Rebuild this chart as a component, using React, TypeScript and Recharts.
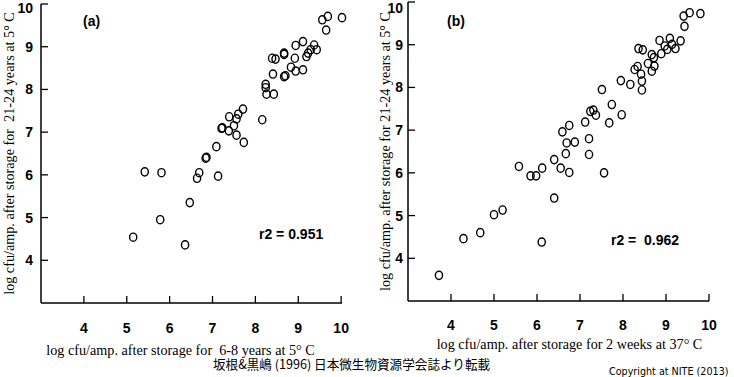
import * as React from 'react';
import { ScatterChart, Scatter, XAxis, YAxis } from 'recharts';

// (a) 6-8 years at 5°C  vs  21-24 years at 5°C
const aX = [5.42, 5.81, 6.69, 6.64, 7.13, 7.09, 6.84, 6.86, 7.21, 7.23, 7.38, 7.39, 7.50, 7.60, 7.56,
  7.56, 7.71, 7.73, 8.16, 8.24, 8.24, 8.26, 8.43, 8.41, 8.39, 8.47, 8.67, 8.67, 8.67, 8.70, 8.83,
  8.94, 8.92, 8.94, 9.11, 9.11, 9.19, 9.23, 9.29, 9.37, 9.43, 9.56, 9.69, 9.65, 10.02, 5.15, 5.78,
  6.36, 6.47];
const aY = [6.07, 6.05, 6.05, 5.92, 5.97, 6.66, 6.39, 6.41, 7.09, 7.10, 7.03, 7.36, 7.15, 7.42, 7.31,
  6.93, 7.54, 6.76, 7.29, 8.12, 8.04, 7.89, 7.89, 8.36, 8.73, 8.71, 8.82, 8.85, 8.30, 8.32, 8.52,
  8.43, 8.73, 9.03, 9.12, 8.46, 8.77, 8.85, 8.93, 9.04, 8.93, 9.63, 9.71, 9.39, 9.68, 4.54, 4.95,
  4.36, 5.35];

// (b) 2 weeks at 37°C  vs  21-24 years at 5°C
const bX = [3.72, 4.29, 4.68, 5.00, 5.20, 6.11, 6.40, 5.58, 5.85, 5.98, 6.12, 6.40, 6.55, 6.75, 6.67,
  6.59, 6.75, 6.69, 6.88, 7.21, 7.21, 7.12, 7.24, 7.31, 7.37, 7.51, 7.56, 7.68, 7.74, 7.97, 7.95,
  8.17, 8.27, 8.34, 8.36, 8.46, 8.44, 8.44, 8.42, 8.58, 8.67, 8.73, 8.72, 8.67, 8.85, 8.89, 8.97,
  9.03, 9.09, 9.14, 9.22, 9.34, 9.43, 9.41, 9.55, 9.80];
const bY = [3.60, 4.46, 4.60, 5.02, 5.13, 4.38, 5.41, 6.15, 5.93, 5.93, 6.11, 6.31, 6.11, 6.01, 6.45,
  6.96, 7.11, 6.70, 6.72, 6.80, 6.43, 7.19, 7.44, 7.47, 7.35, 7.95, 6.00, 7.17, 7.60, 7.36, 8.16,
  8.07, 8.42, 8.49, 8.91, 8.88, 8.15, 7.94, 8.31, 8.56, 8.38, 8.50, 8.70, 8.77, 9.10, 8.79, 8.97,
  8.89, 9.15, 9.01, 8.91, 9.09, 9.43, 9.67, 9.75, 9.73];

const ticks = [4, 5, 6, 7, 8, 9, 10];
// non-breaking spaces keep the double gaps of the original labels
const yLabelA = 'log cfu/amp. after storage for\u00a0 21-24 years at 5°\u00a0C';
const yLabelB = 'log cfu/amp. after storage for 21-24 years at 5°\u00a0C';
const xLabelA = 'log cfu/amp. after storage for\u00a0 6-8 years at 5°\u00a0C';
const xLabelB = 'log cfu/amp. after storage for 2 weeks at 37°\u00a0C';

const toPoints = (xs: number[], ys: number[]) => xs.map((x, i) => ({ x, y: ys[i] }));

const tickStyle = { fill: '#000', fontSize: 14, fontWeight: 'bold', fontFamily: 'Liberation Sans' };
const labelStyle = { fill: '#000', fontSize: 14.2, fontFamily: 'Liberation Serif', textAnchor: 'middle' as const };

const OpenCircle = (props: any) => (
  <ellipse cx={props.cx} cy={props.cy} rx={3.6} ry={4.1} fill="none" stroke="#000" strokeWidth={1.4} />
);

function Panel({ xs, ys, xLabel, yText, top, xLabelOffset, xLabelDx, yLabelOffset, yTickMargin, xTickMargin }: any) {
  return (
    <ScatterChart width={360} height={360} margin={{ top, right: 18, bottom: 0, left: 0 }}>
      <XAxis
        type="number"
        dataKey="x"
        domain={[3, 10]}
        ticks={ticks}
        height={360 - 303 + (4 - top)}
        tickSize={-7}
        tickMargin={xTickMargin}
        tick={tickStyle}
        axisLine={{ stroke: '#000', strokeWidth: 1.5 }}
        tickLine={{ stroke: '#000', strokeWidth: 1.3 }}
        label={{ value: xLabel, position: 'insideBottom', offset: xLabelOffset, dx: xLabelDx, style: labelStyle }}
      />
      <YAxis
        type="number"
        dataKey="y"
        domain={[3, 10]}
        ticks={ticks}
        width={41}
        tickSize={-7}
        tickMargin={yTickMargin}
        tick={tickStyle}
        axisLine={{ stroke: '#000', strokeWidth: 1.5 }}
        tickLine={{ stroke: '#000', strokeWidth: 1.3 }}
        label={{ value: yText, angle: -90, position: 'insideLeft', offset: yLabelOffset, style: labelStyle }}
      />
      <Scatter data={toPoints(xs, ys)} shape={OpenCircle} isAnimationActive={false} />
    </ScatterChart>
  );
}

const boldText: React.CSSProperties = {
  position: 'absolute',
  fontFamily: 'Liberation Sans',
  fontWeight: 'bold',
  fontSize: 14,
  lineHeight: '14px',
  whiteSpace: 'nowrap',
};

export default function App() {
  return (
    <div style={{ position: 'absolute', left: 0, top: 0, width: 734, height: 377, background: '#fff', overflow: 'hidden' }}>
      <div style={{ position: 'absolute', left: 0, top: 0 }}>
        <Panel xs={aX} ys={aY} xLabel={xLabelA} yText={yLabelA} top={4} xLabelOffset={5} xLabelDx={-11} yLabelOffset={9} yTickMargin={15} xTickMargin={27} />
      </div>
      <div style={{ position: 'absolute', left: 367, top: 0 }}>
        <Panel xs={bX} ys={bY} xLabel={xLabelB} yText={yLabelB} top={2} xLabelOffset={11} xLabelDx={11} yLabelOffset={18} yTickMargin={12} xTickMargin={26} />
      </div>
      <div style={{ ...boldText, left: 83, top: 14 }}>(a)</div>
      <div style={{ ...boldText, left: 447, top: 14 }}>(b)</div>
      <div style={{ ...boldText, left: 259, top: 227 }}>r2 = 0.951</div>
      <div style={{ ...boldText, left: 611, top: 233 }}>r2 =&nbsp; 0.962</div>
      <div style={{ position: 'absolute', left: 213, top: 358, fontFamily: 'Noto Sans CJK JP', fontSize: 12.6, lineHeight: '12px', whiteSpace: 'nowrap' }}>
        坂根&amp;黒嶋 (1996) 日本微生物資源学会誌より転載
      </div>
      <div style={{ position: 'absolute', left: 609, top: 366, fontFamily: 'DejaVu Sans', fontSize: 9.6, lineHeight: '11px', whiteSpace: 'nowrap' }}>
        Copyright at NITE (2013)
      </div>
    </div>
  );
}
